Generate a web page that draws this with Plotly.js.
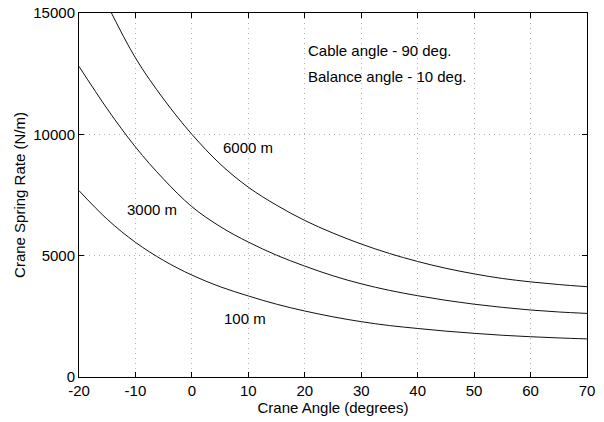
<!DOCTYPE html>
<html>
<head>
<meta charset="utf-8">
<script src="https://cdn.plot.ly/plotly-3.0.1.min.js"></script>
<style>html,body{margin:0;padding:0;background:#fff;}#chart{width:604px;height:422px;}</style>
</head>
<body>
<div id="chart"></div>
<script>
// Crane angle (degrees)
const angle6000 = [-15, -10, -5, 0, 5, 10, 15, 20, 25, 30, 35, 40, 45, 50, 55, 60, 65, 70];
const rate6000  = [15350, 13150, 11450, 10000, 8780, 7820, 7080, 6450, 5930, 5480, 5090, 4760, 4480, 4250, 4060, 3920, 3810, 3720];

const angles = [-20, -15, -10, -5, 0, 5, 10, 15, 20, 25, 30, 35, 40, 45, 50, 55, 60, 65, 70];
const rate3000 = [12800, 11050, 9480, 8150, 7020, 6200, 5560, 5020, 4570, 4170, 3840, 3570, 3350, 3160, 3000, 2870, 2760, 2680, 2620];
const rate100  = [7680, 6500, 5550, 4800, 4200, 3720, 3340, 3000, 2720, 2480, 2280, 2120, 2000, 1890, 1800, 1720, 1660, 1610, 1570];

const xTicks = [-20, -10, 0, 10, 20, 30, 40, 50, 60, 70];
const yTicks = [0, 5000, 10000, 15000];

const labels = ["6000 m", "3000 m", "100 m", "Cable angle - 90 deg.", "Balance angle - 10 deg."];

const lineStyle = {color: '#111', width: 1, shape: 'spline', smoothing: 1};
const traces = [
  {x: angle6000, y: rate6000, mode: 'lines', line: lineStyle, hoverinfo: 'skip'},
  {x: angles, y: rate3000, mode: 'lines', line: lineStyle, hoverinfo: 'skip'},
  {x: angles, y: rate100, mode: 'lines', line: lineStyle, hoverinfo: 'skip'}
];

const font = {family: '"Liberation Sans", Arial, Helvetica, sans-serif', size: 15, color: '#000'};
const ann = (text, x, y) => ({text, x, y, xref: 'x', yref: 'y', xanchor: 'left', yanchor: 'middle', showarrow: false, font});

const axisCommon = {
  showline: true, linecolor: '#000', linewidth: 1, mirror: 'ticks',
  ticks: 'inside', ticklen: 5, tickcolor: '#000', tickwidth: 1,
  showgrid: true, gridcolor: '#b0b0b0', gridwidth: 1, griddash: '1px,4px',
  zeroline: false, tickfont: font
};

const layout = {
  width: 604, height: 422,
  margin: {l: 79, r: 17, t: 13, b: 45, pad: 0},
  paper_bgcolor: '#fff', plot_bgcolor: '#fff',
  showlegend: false,
  font: font,
  xaxis: Object.assign({}, axisCommon, {
    range: [-20, 70], tickvals: xTicks, ticktext: xTicks.map(String),
    title: {text: 'Crane Angle (degrees)', font: font, standoff: 2}
  }),
  yaxis: Object.assign({}, axisCommon, {
    range: [0, 15000], tickvals: yTicks, ticktext: yTicks.map(String),
    title: {text: 'Crane Spring Rate (N/m)', font: font, standoff: 4}
  }),
  annotations: [
    ann(labels[0], 5.2, 9440),
    ann(labels[1], -11.85, 6920),
    ann(labels[2], 5.3, 2420),
    ann(labels[3], 20.2, 13470),
    ann(labels[4], 20.2, 12370)
  ]
};

Plotly.newPlot('chart', traces, layout, {staticPlot: true, displayModeBar: false});
</script>
</body>
</html>
